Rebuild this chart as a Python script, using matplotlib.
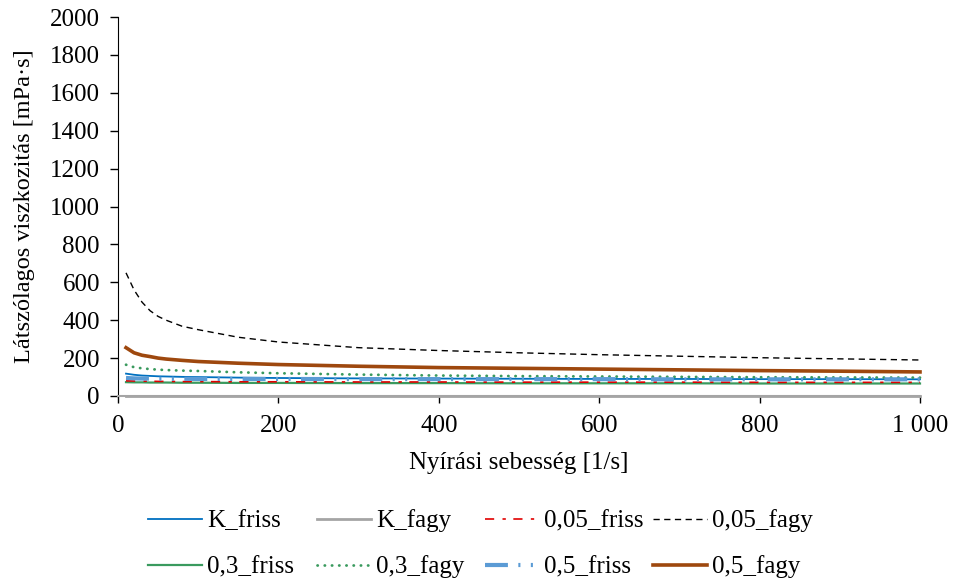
import matplotlib
matplotlib.use("Agg")
import matplotlib.pyplot as plt
from matplotlib.ticker import FuncFormatter

plt.rcParams['font.family'] = ['Liberation Serif', 'DejaVu Serif']

shear = [10, 20, 30, 40, 50, 60, 80, 100, 150, 200, 300, 400, 500, 600, 700, 800, 900, 1000]

k_friss = [118, 112, 108, 106, 104, 103, 101, 100, 97, 95, 93, 92, 91, 90, 90, 89, 89, 88]
k_fagy = [0, 0, 0, 0, 0, 0, 0, 0, 0, 0, 0, 0, 0, 0, 0, 0, 0, 0]
f005_friss = [80, 79, 78, 78, 77, 77, 76, 76, 75, 75, 74, 74, 73, 73, 73, 72, 72, 72]
f005_fagy = [650, 560, 495, 450, 420, 400, 368, 350, 310, 285, 255, 240, 228, 218, 210, 202, 196, 190]
f03_friss = [73, 72, 72, 71, 71, 71, 70, 70, 69, 69, 68, 68, 67, 67, 67, 66, 66, 66]
f03_fagy = [165, 152, 146, 142, 139, 137, 134, 132, 125, 120, 113, 108, 105, 103, 101, 99, 98, 97]
f05_friss = [95, 93, 92, 92, 91, 91, 91, 90, 90, 90, 89, 89, 89, 89, 88, 88, 88, 88]
f05_fagy = [255, 228, 215, 208, 200, 195, 188, 182, 173, 166, 157, 150, 146, 142, 138, 134, 131, 127]

labels = ["K_friss", "K_fagy", "0,05_friss", "0,05_fagy",
          "0,3_friss", "0,3_fagy", "0,5_friss", "0,5_fagy"]
yticks = [0, 200, 400, 600, 800, 1000, 1200, 1400, 1600, 1800, 2000]
xticks = [0, 200, 400, 600, 800, 1000]

FS = 18
W, H = 955, 580
fig = plt.figure(figsize=(W/100, H/100), dpi=100)
ax = fig.add_axes([118/W, 1-396/H, (920-118)/W, (396-17)/H])

series = [k_friss, k_fagy, f005_friss, f005_fagy, f03_friss, f03_fagy, f05_friss, f05_fagy]
styles = [
    dict(color='#0070C0', lw=1.3, ls='-'),
    dict(color='#A5A5A5', lw=2.0, ls='-'),
    dict(color='#E00000', lw=1.2, ls=(0, (5.5, 5.0, 2.0, 4.5))),
    dict(color='#000000', lw=1.0, ls=(0, (4.5, 3.2))),
    dict(color='#3A9A5E', lw=1.6, ls='-'),
    dict(color='#3A9A5E', lw=2.0, ls=(0, (0.1, 2.5)), dash_capstyle='round'),
    dict(color='#5B9BD5', lw=3.0, ls=(0, (5.5, 2.5, 0.5, 2.5, 0.5, 2.5))),
    dict(color='#9E480E', lw=2.6, ls='-'),
]
zorder = [2.3, 2.0, 2.2, 2.7, 2.1, 2.4, 2.5, 2.6]
handles = []
for i in range(8):
    ln, = ax.plot(shear, series[i], label=labels[i], clip_on=False,
                  zorder=zorder[i], **styles[i])
    handles.append(ln)

ax.set_xlim(0, 1000)
ax.set_ylim(0, 2000)
ax.set_xticks(xticks)
ax.set_yticks(yticks)
ax.xaxis.set_major_formatter(FuncFormatter(lambda v, p: f"{int(v):,}".replace(",", " ")))
ax.tick_params(axis='both', labelsize=FS, direction='out', color='black', width=1)
ax.tick_params(axis='y', length=6, pad=7)
ax.tick_params(axis='x', length=5, pad=9)
for s in ['top', 'right']:
    ax.spines[s].set_visible(False)
ax.spines['left'].set_color('black')
ax.spines['bottom'].set_color('#A5A5A5')
ax.spines['bottom'].set_linewidth(1.5)

ax.set_ylabel("Látszólagos viszkozitás [mPa·s]", fontsize=17.5, va='center')
ax.yaxis.set_label_coords((25-118)/802, 0.5)
ax.set_xlabel("Nyírási sebesség [1/s]", fontsize=FS, va='center')
ax.xaxis.set_label_coords(0.5, (396-463)/379)

col_x = [148, 317, 485, 653]
row_y = [521, 567]
for i in range(8):
    r, c = divmod(i, 4)
    lg = fig.legend(handles=[handles[i]], labels=[labels[i]], loc='center left',
                    bbox_to_anchor=(col_x[c]/W, 1-row_y[r]/H), frameon=False,
                    fontsize=FS, handlelength=2.16, handletextpad=0.2,
                    borderpad=0, borderaxespad=0)

fig.savefig("out.png", dpi=100)
